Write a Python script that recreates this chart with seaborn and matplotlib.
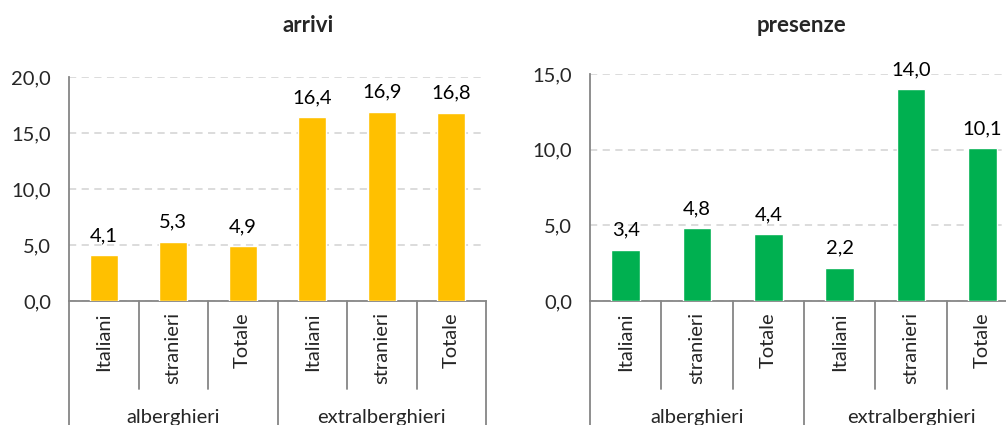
import pandas as pd
import seaborn as sns
import matplotlib.pyplot as plt
from matplotlib.ticker import FuncFormatter, MultipleLocator
import matplotlib.transforms as mtransforms

# data
gruppi = ['alberghieri', 'alberghieri', 'alberghieri',
          'extralberghieri', 'extralberghieri', 'extralberghieri']
tipi = ['Italiani', 'stranieri', 'Totale', 'Italiani', 'stranieri', 'Totale']
arrivi = [4.1, 5.3, 4.9, 16.4, 16.9, 16.8]
presenze = [3.4, 4.8, 4.4, 2.2, 14.0, 10.1]

df = pd.DataFrame({'gruppo': gruppi, 'tipo': tipi,
                   'arrivi': arrivi, 'presenze': presenze})
df['key'] = df['gruppo'] + ' ' + df['tipo']
keys = list(df['key'])

sns.set_style('white')
plt.rcParams['font.family'] = ['Lato', 'DejaVu Sans']

FS = 14.5
GRAY = '#868686'
fmt = lambda v: f'{v:.1f}'.replace('.', ',')

fig = plt.figure(figsize=(10.06, 4.25), dpi=100)
W, H = 1006, 425

# (column, colour, ymax, step, axes rect in px: left, right, top, title x)
panels = [
    ('arrivi', '#FFC000', 20, 5, 69, 486, 77, 308),
    ('presenze', '#00B050', 15, 5, 590, 1018, 74, 801),
]

for col, color, ymax, step, x0, x1, ytop, title_x in panels:
    y0 = 301
    ax = fig.add_axes([x0 / W, (H - y0) / H, (x1 - x0) / W, (y0 - ytop) / H])
    ax_h = y0 - ytop

    sns.barplot(data=df, x='key', y=col, order=keys, color=color,
                saturation=1, width=0.4, ax=ax, zorder=3)
    ax.bar_label(ax.containers[0], labels=[fmt(v) for v in df[col]],
                 padding=8, fontsize=FS, color='#000000')

    ax.set_xlim(-0.5, 5.5)
    ax.set_ylim(0, ymax)
    ax.yaxis.set_major_locator(MultipleLocator(step))
    ax.yaxis.set_major_formatter(FuncFormatter(lambda v, p: fmt(v)))
    ax.grid(axis='y', color='#D9D9D9', linestyle=(0, (4, 3)), linewidth=1.3, zorder=0)
    ax.set_xlabel('')
    ax.set_ylabel('')

    for s in ['top', 'right']:
        ax.spines[s].set_visible(False)
    for s in ['left', 'bottom']:
        ax.spines[s].set_color(GRAY)
        ax.spines[s].set_linewidth(1.3)
    ax.tick_params(axis='y', length=5, width=1.3, color=GRAY, labelsize=FS, pad=8)
    ax.set_xticks(range(6))
    ax.set_xticklabels(tipi, rotation=90, va='top', fontsize=FS)
    ax.tick_params(axis='x', length=0, pad=8)

    # multi-level category axis separators
    trans = mtransforms.blended_transform_factory(ax.transData, ax.transAxes)
    inner_bottom = -(389 - y0) / ax_h
    outer_bottom = -(H + 5 - y0) / ax_h
    for xb in [0.5, 1.5, 3.5, 4.5]:
        ax.plot([xb, xb], [0, inner_bottom], color=GRAY, lw=1.3,
                transform=trans, clip_on=False)
    for xb in [-0.5, 2.5, 5.5]:
        ax.plot([xb, xb], [0, outer_bottom], color=GRAY, lw=1.3,
                transform=trans, clip_on=False)
    for xc, name in [(1, 'alberghieri'), (4, 'extralberghieri')]:
        ax.text(xc, -(418 - y0) / ax_h, name, transform=trans,
                ha='center', va='center', fontsize=FS)

    fig.text(title_x / W, 1 - 25 / H, col, ha='center', va='center',
             fontsize=16, fontweight='bold')

fig.savefig('out.png', dpi=100)
